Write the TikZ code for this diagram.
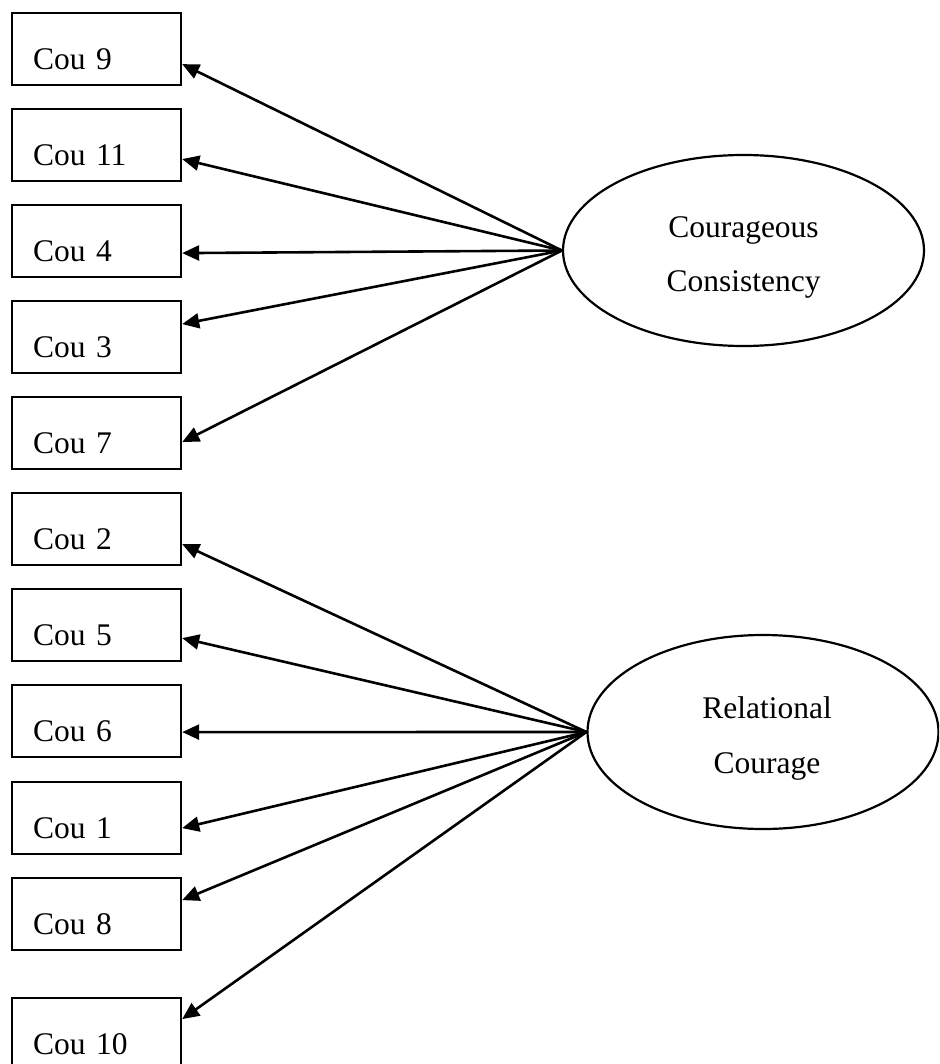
\documentclass[tikz,border=0pt]{standalone}
\usepackage{fontspec}
\setmainfont{Liberation Serif}
\usetikzlibrary{arrows.meta,shapes.geometric}

\tikzset{
  item/.style={draw, line width=2.2pt, rectangle, anchor=north west,
    inner xsep=21pt, inner ysep=0pt, text width=127pt, align=left,
    text height=56pt, text depth=16pt,
    font=\fontsize{31.5}{36}\selectfont},
  factor/.style={draw, line width=2.2pt, ellipse, inner sep=0pt},
  factorname/.style={align=center, inner sep=0pt,
    font=\fontsize{31.5}{54.5}\selectfont},
  load/.style={line width=2.6pt, -{Triangle[length=17pt,width=15pt]}}
}

\begin{document}
\begin{tikzpicture}[x=1pt,y=-1pt]
  \useasboundingbox (0,0) rectangle (939,1064);
  \clip (0,0) rectangle (939,1064);

  % observed items
  \node[item] (c9)  at (11,12)  {Cou 9};
  \node[item] (c11) at (11,108) {Cou 11};
  \node[item] (c4)  at (11,204) {Cou 4};
  \node[item] (c3)  at (11,300) {Cou 3};
  \node[item] (c7)  at (11,396) {Cou 7};
  \node[item] (c2)  at (11,492) {Cou 2};
  \node[item] (c5)  at (11,588) {Cou 5};
  \node[item] (c6)  at (11,684) {Cou 6};
  \node[item] (c1)  at (11,781) {Cou 1};
  \node[item] (c8)  at (11,877) {Cou 8};
  \node[item] (c10) at (11,997) {Cou 10};

  % latent factors and their names
  \node[factor, minimum width=361pt, minimum height=191pt] (cc) at (743.5,250.5) {};
  \node[factorname] (ccname) at ([yshift=-7pt]cc.center) {Courageous\\Consistency};
  \node[factor, minimum width=351pt, minimum height=194pt] (rc) at (763,732) {};
  \node[factorname] (rcname) at ([xshift=4pt,yshift=-6.5pt]rc.center) {Relational\\Courage};

  % loadings, factor to item
  \draw[load] (cc.west) -- ([yshift=-15pt]c9.east);
  \draw[load] (cc.west) -- ([yshift=-14pt]c11.east);
  \draw[load] (cc.west) -- ([yshift=-12pt]c4.east);
  \draw[load] (cc.west) -- ([yshift=13pt]c3.east);
  \draw[load] (cc.west) -- ([yshift=-9pt]c7.east);

  \draw[load] (rc.west) -- ([yshift=-15pt]c2.east);
  \draw[load] (rc.west) -- ([yshift=-13pt]c5.east);
  \draw[load] (rc.west) -- ([yshift=-11pt]c6.east);
  \draw[load] (rc.west) -- ([yshift=-10pt]c1.east);
  \draw[load] (rc.west) -- ([yshift=14pt]c8.east);
  \draw[load] (rc.west) -- ([yshift=15pt]c10.east);
\end{tikzpicture}
\end{document}
